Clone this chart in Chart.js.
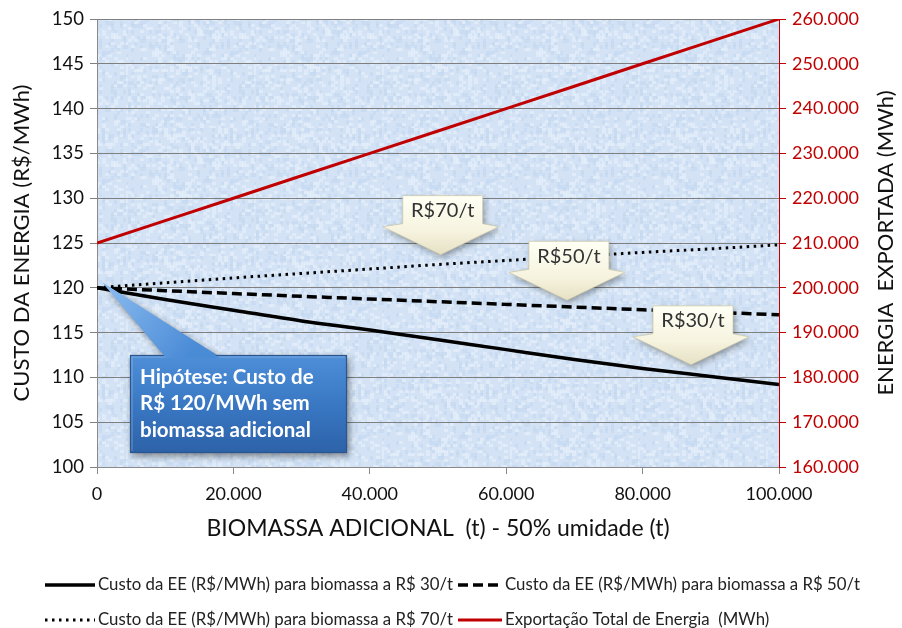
<!DOCTYPE html>
<html>
<head>
<meta charset="utf-8">
<script src="https://cdn.jsdelivr.net/npm/chart.js@4/dist/chart.umd.min.js"></script>
<style>
  html, body { margin: 0; padding: 0; background: #ffffff; }
  #wrap { width: 902px; height: 628px; }
</style>
</head>
<body>
<div id="wrap"><canvas id="c" width="902" height="628"></canvas></div>
<script>
// ---- data ----
const biomassa = [0, 10000, 20000, 30000, 40000, 50000, 60000, 70000, 80000, 90000, 100000];
const custo30 = [120, 118.7, 117.5, 116.3, 115.3, 114.2, 113.1, 112.0, 111.0, 110.1, 109.2];
const custo50 = [120, 119.68, 119.36, 119.05, 118.75, 118.45, 118.15, 117.85, 117.55, 117.27, 117.0];
const custo70 = [120, 120.55, 121.1, 121.6, 122.1, 122.6, 123.05, 123.5, 123.95, 124.35, 124.8];
const exportacao = [210000, 215000, 220000, 225000, 230000, 235000, 240000, 245000, 250000, 255000, 260000];
const seriesNames = [
  'Custo da EE (R$/MWh) para biomassa a R$ 30/t',
  'Custo da EE (R$/MWh) para biomassa a R$ 50/t',
  'Custo da EE (R$/MWh) para biomassa a R$ 70/t',
  'Exportação Total de Energia  (MWh)'
];
const xTitle = 'BIOMASSA ADICIONAL  (t) - 50% umidade (t)';
const yTitle = 'CUSTO DA ENERGIA (R$/MWh)';
const y2Title = 'ENERGIA  EXPORTADA (MWh)';
const priceCallouts = [
  { text: 'R$70/t', x: 50400, y: 123.7 },
  { text: 'R$50/t', x: 68900, y: 118.6 },
  { text: 'R$30/t', x: 87100, y: 111.4 }
];
const hypothesisLines = ['Hipótese: Custo de', 'R$ 120/MWh sem', 'biomassa adicional'];
const hypothesisAnchor = { x: 800, y: 120.6 };

const FONT = "Lato, 'Open Sans', 'DejaVu Sans', sans-serif";

function fmtThousands(v) {
  return String(Math.round(v)).replace(/\B(?=(\d{3})+(?!\d))/g, '.');
}
function pts(ys) { return biomassa.map((x, i) => ({ x: x, y: ys[i] })); }

// background texture (deterministic hash, decorative only)
function hash(a, b) {
  let h = Math.sin(a * 12.9898 + b * 78.233) * 43758.5453;
  return h - Math.floor(h);
}
function makePattern(ctx) {
  const S = 128;
  const c = document.createElement('canvas');
  c.width = S; c.height = S;
  const g = c.getContext('2d');
  g.fillStyle = '#d3e3f5';
  g.fillRect(0, 0, S, S);
  for (let yy = 0; yy < S; yy += 3) {
    for (let xx = 0; xx < S; xx += 3) {
      const h = hash(xx, yy);
      if (h > 0.78) { g.fillStyle = 'rgba(238,245,252,0.45)'; g.fillRect(xx, yy, 4, 3); }
      else if (h < 0.18) { g.fillStyle = 'rgba(184,207,234,0.35)'; g.fillRect(xx, yy, 3, 4); }
    }
  }
  return ctx.createPattern(c, 'repeat');
}

const bgPlugin = {
  id: 'bg',
  beforeDraw(chart) {
    const { ctx, chartArea: a } = chart;
    ctx.save();
    ctx.fillStyle = '#ffffff';
    ctx.fillRect(0, 0, chart.width, chart.height);
    ctx.fillStyle = makePattern(ctx);
    ctx.fillRect(a.left, a.top, a.right - a.left, a.bottom - a.top);
    ctx.restore();
  }
};

function drawArrowCallout(ctx, tipX, tipY, text) {
  const w = 80, h = 28, gap = 31, half = 58;
  const by = tipY - gap;
  const ty = by - h;
  const x0 = tipX - w / 2 + 2, x1 = tipX + w / 2 + 2;
  ctx.save();
  ctx.beginPath();
  ctx.moveTo(x0, ty);
  ctx.lineTo(x1, ty);
  ctx.lineTo(x1, by);
  ctx.lineTo(tipX + half, by + 3);
  ctx.lineTo(tipX, tipY);
  ctx.lineTo(tipX - half, by + 3);
  ctx.lineTo(x0, by);
  ctx.closePath();
  const gr = ctx.createLinearGradient(0, ty, 0, tipY);
  gr.addColorStop(0, '#fffff4');
  gr.addColorStop(0.6, '#f6f3df');
  gr.addColorStop(1, '#e6e1c4');
  ctx.fillStyle = gr;
  ctx.shadowColor = 'rgba(0,0,0,0.35)';
  ctx.shadowBlur = 6;
  ctx.shadowOffsetX = 2;
  ctx.shadowOffsetY = 3;
  ctx.fill();
  ctx.shadowColor = 'transparent';
  ctx.strokeStyle = 'rgba(200,195,160,0.8)';
  ctx.lineWidth = 0.8;
  ctx.stroke();
  ctx.fillStyle = '#333333';
  ctx.font = '20px ' + FONT;
  ctx.textAlign = 'center';
  ctx.textBaseline = 'middle';
  ctx.fillText(text, (x0 + x1) / 2, ty + h / 2 + 1);
  ctx.restore();
}

const annotPlugin = {
  id: 'annot',
  afterDatasetsDraw(chart) {
    const { ctx } = chart;
    const xs = chart.scales.x, ys = chart.scales.y;
    priceCallouts.forEach(c => {
      drawArrowCallout(ctx, xs.getPixelForValue(c.x), ys.getPixelForValue(c.y), c.text);
    });
    const tipX = xs.getPixelForValue(hypothesisAnchor.x);
    const tipY = ys.getPixelForValue(hypothesisAnchor.y);
    const bx0 = 130, by0 = 355, bw = 217, bh = 98;
    ctx.save();
    ctx.shadowColor = 'rgba(0,0,0,0.45)';
    ctx.shadowBlur = 7;
    ctx.shadowOffsetX = 2;
    ctx.shadowOffsetY = 3;
    ctx.beginPath();
    ctx.moveTo(tipX, tipY);
    ctx.lineTo(bx0 + 90, by0 + 2);
    ctx.lineTo(bx0 + 36, by0 + 2);
    ctx.closePath();
    const pg = ctx.createLinearGradient(tipX, tipY, bx0 + 60, by0);
    pg.addColorStop(0, '#8cbcf0');
    pg.addColorStop(1, '#4a8bd6');
    ctx.fillStyle = pg;
    ctx.fill();
    const bg = ctx.createLinearGradient(0, by0, 0, by0 + bh);
    bg.addColorStop(0, '#4e8fd8');
    bg.addColorStop(0.5, '#3a78c4');
    bg.addColorStop(1, '#2c62a8');
    ctx.fillStyle = bg;
    ctx.fillRect(bx0, by0, bw, bh);
    ctx.shadowColor = 'transparent';
    ctx.strokeStyle = '#2a5590';
    ctx.lineWidth = 1.2;
    ctx.strokeRect(bx0 + 0.5, by0 + 0.5, bw - 1, bh - 1);
    ctx.strokeStyle = 'rgba(255,255,255,0.25)';
    ctx.beginPath();
    ctx.moveTo(bx0 + 2, by0 + bh - 2); ctx.lineTo(bx0 + 2, by0 + 2); ctx.lineTo(bx0 + bw - 2, by0 + 2);
    ctx.stroke();
    ctx.beginPath();
    ctx.moveTo(tipX, tipY);
    ctx.lineTo(bx0 + 90, by0 + 3);
    ctx.lineTo(bx0 + 36, by0 + 3);
    ctx.closePath();
    ctx.fillStyle = pg;
    ctx.fill();
    ctx.fillStyle = '#ffffff';
    ctx.font = 'bold 20.5px ' + FONT;
    ctx.textAlign = 'left';
    ctx.textBaseline = 'middle';
    hypothesisLines.forEach((t, i) => ctx.fillText(t, bx0 + 10, by0 + 22 + i * 26.5));
    ctx.restore();
  }
};

const extrasPlugin = {
  id: 'extras',
  afterDraw(chart) {
    const { ctx, chartArea: a } = chart;
    ctx.save();
    // right axis title, reading bottom-to-top
    ctx.translate(886, (a.top + a.bottom) / 2);
    ctx.rotate(-Math.PI / 2);
    ctx.fillStyle = '#111111';
    ctx.font = '22px ' + FONT;
    ctx.textAlign = 'center';
    ctx.textBaseline = 'middle';
    ctx.fillText(y2Title, 0, 0);
    ctx.restore();
    // legend
    const items = [
      { sx: 45, sl: 50, tx: 98, y: 585 },
      { sx: 458, sl: 44, tx: 505, y: 585 },
      { sx: 45, sl: 50, tx: 98, y: 620 },
      { sx: 458, sl: 44, tx: 505, y: 620 }
    ];
    ctx.save();
    chart.data.datasets.forEach((ds, i) => {
      const it = items[i];
      ctx.beginPath();
      ctx.setLineDash(ds.borderDash || []);
      ctx.lineWidth = ds.borderWidth;
      ctx.strokeStyle = ds.borderColor;
      ctx.moveTo(it.sx, it.y);
      ctx.lineTo(it.sx + it.sl, it.y);
      ctx.stroke();
      ctx.setLineDash([]);
      ctx.fillStyle = '#222222';
      ctx.font = '16.8px ' + FONT;
      ctx.textAlign = 'left';
      ctx.textBaseline = 'middle';
      ctx.fillText(ds.label, it.tx, it.y);
    });
    ctx.restore();
  }
};

new Chart(document.getElementById('c'), {
  type: 'line',
  data: {
    datasets: [
      { label: seriesNames[0], data: pts(custo30), yAxisID: 'y', borderColor: '#000000', borderWidth: 3.5, pointRadius: 0, cubicInterpolationMode: 'monotone', fill: false },
      { label: seriesNames[1], data: pts(custo50), yAxisID: 'y', borderColor: '#000000', borderWidth: 3.5, borderDash: [10, 5], pointRadius: 0, cubicInterpolationMode: 'monotone', fill: false },
      { label: seriesNames[2], data: pts(custo70), yAxisID: 'y', borderColor: '#000000', borderWidth: 3, borderDash: [2.5, 4.5], pointRadius: 0, cubicInterpolationMode: 'monotone', fill: false },
      { label: seriesNames[3], data: pts(exportacao), yAxisID: 'y2', borderColor: '#c00000', borderWidth: 3, pointRadius: 0, fill: false }
    ]
  },
  options: {
    responsive: false,
    animation: false,
    events: [],
    layout: { padding: { top: 19, left: 0, right: 0, bottom: 78 } },
    plugins: { legend: { display: false }, tooltip: { enabled: false } },
    scales: {
      x: {
        type: 'linear', min: 0, max: 100000,
        afterFit(s) { s.height = 83; },
        ticks: { stepSize: 20000, callback: v => fmtThousands(v), color: '#111111', font: { family: FONT, size: 18 }, padding: 9, maxRotation: 0 },
        grid: { display: true, drawOnChartArea: false, drawTicks: true, tickLength: 7, color: '#8a8a8a' },
        border: { color: '#8a8a8a', width: 1 },
        title: { display: true, text: xTitle, color: '#111111', font: { family: FONT, size: 23 }, padding: { top: 8, bottom: 8 } }
      },
      y: {
        position: 'left', min: 100, max: 150,
        afterFit(s) { s.width = 97; },
        ticks: { stepSize: 5, color: '#111111', font: { family: FONT, size: 18.5 }, padding: 6 },
        grid: { color: '#7f7f7f', lineWidth: 1, tickLength: 7 },
        border: { color: '#8a8a8a', width: 1 },
        title: { display: true, text: yTitle, color: '#111111', font: { family: FONT, size: 22 }, padding: { top: 9, bottom: 0 } }
      },
      y2: {
        position: 'right', min: 160000, max: 260000,
        afterFit(s) { s.width = 123; },
        ticks: { stepSize: 10000, callback: v => fmtThousands(v), color: '#c00000', font: { family: FONT, size: 18 }, padding: 6 },
        grid: { drawOnChartArea: false, color: '#c00000', tickLength: 7 },
        border: { color: '#c00000', width: 1 },
        title: { display: false }
      }
    }
  },
  plugins: [bgPlugin, annotPlugin, extrasPlugin]
});
</script>
</body>
</html>
